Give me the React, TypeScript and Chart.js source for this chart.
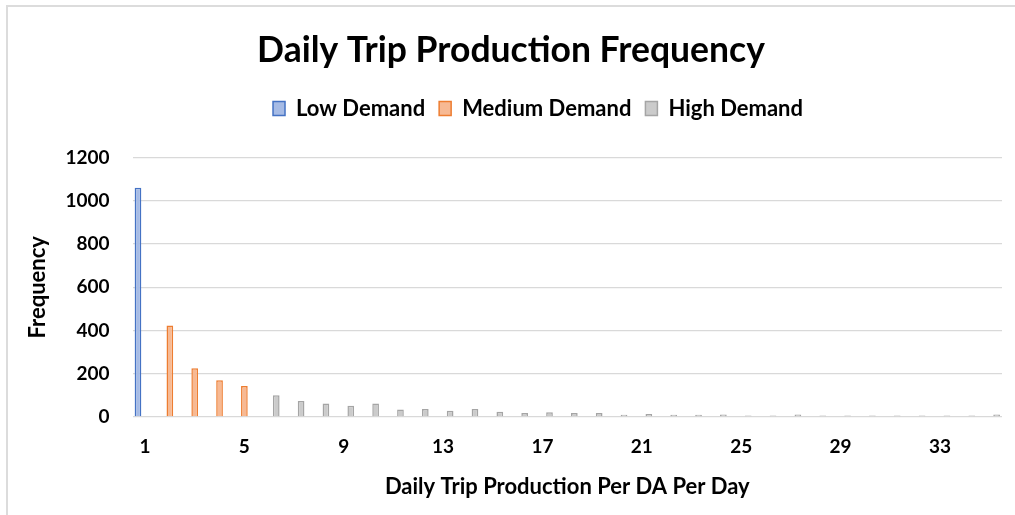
import React, { useEffect, useRef } from "react";
import { Chart, registerables } from "chart.js";

Chart.register(...registerables);

const categories: string[] = [
  "1", "2", "3", "4", "5", "6", "7", "8", "9", "10",
  "11", "12", "13", "14", "15", "16", "17", "18", "19", "20",
  "21", "22", "23", "24", "25", "26", "27", "28", "29", "30",
  "31", "32", "33", "34", "35",
];

const lowDemand: (number | null)[] = [
  1060, null, null, null, null, null, null, null, null, null,
  null, null, null, null, null, null, null, null, null, null,
  null, null, null, null, null, null, null, null, null, null,
  null, null, null, null, null,
];

const mediumDemand: (number | null)[] = [
  null, 423, 225, 170, 143, null, null, null, null, null,
  null, null, null, null, null, null, null, null, null, null,
  null, null, null, null, null, null, null, null, null, null,
  null, null, null, null, null,
];

const highDemand: (number | null)[] = [
  null, null, null, null, null, 101, 74, 62, 52, 62,
  35, 37, 29, 37, 24, 18, 22, 18, 18, 10,
  14, 10, 10, 12, 7, 7, 12, 7, 7, 7,
  7, 7, 7, 7, 12,
];

const shownXTicks: string[] = ["1", "5", "9", "13", "17", "21", "25", "29", "33"];

const FONT = "Lato, 'Open Sans', sans-serif";
const TEXT = "#000000";

const legendSpacer = {
  id: "legendSpacer",
  beforeInit(chart: any) {
    const legend = chart.legend;
    if (!legend) return;
    const origFit = legend.fit;
    legend.fit = function () {
      origFit.call(this);
      this.height += 28;
    };
    const origDraw = legend.draw;
    legend.draw = function () {
      const ctx = this.ctx;
      ctx.save();
      ctx.translate(27, 0);
      origDraw.call(this);
      ctx.restore();
    };
  },
};

export default function App() {
  const ref = useRef<HTMLCanvasElement | null>(null);

  useEffect(() => {
    document.body.style.margin = "0";
    const canvas = ref.current;
    if (!canvas) return;
    const chart = new Chart(canvas, {
      type: "bar",
      data: {
        labels: categories,
        datasets: [
          {
            label: "Low Demand",
            data: lowDemand,
            backgroundColor: "#a6bbe5",
            borderColor: "#4472c4",
            borderWidth: 1.5,
          },
          {
            label: "Medium Demand",
            data: mediumDemand,
            backgroundColor: "#f7b993",
            borderColor: "#ed7d31",
            borderWidth: 1.5,
          },
          {
            label: "High Demand",
            data: highDemand,
            backgroundColor: "#cbcbcb",
            borderColor: "#a5a5a5",
            borderWidth: 1.5,
          },
        ],
      },
      plugins: [legendSpacer],
      options: {
        responsive: false,
        animation: false,
        devicePixelRatio: 1,
        categoryPercentage: 0.85,
        barPercentage: 0.95,
        layout: { padding: { left: 20, right: 13, top: 0, bottom: 8 } },
        plugins: {
          title: {
            display: true,
            text: "Daily Trip Production Frequency",
            color: TEXT,
            font: { family: FONT, size: 35.5, weight: "bold" },
            padding: { top: 29, bottom: 12 },
          },
          legend: {
            display: true,
            position: "top",
            labels: {
              color: TEXT,
              font: { family: FONT, size: 22, weight: "bold" },
              boxWidth: 12,
              boxHeight: 14,
              padding: 14,
            },
          },
          tooltip: { enabled: false },
        },
        scales: {
          x: {
            grid: { display: false, drawTicks: false },
            border: { display: false },
            ticks: {
              autoSkip: false,
              maxRotation: 0,
              padding: 18,
              color: TEXT,
              font: { family: FONT, size: 19, weight: "bold" },
              callback: function (this: any, value: any) {
                const lab = categories[value as number];
                return shownXTicks.includes(lab) ? lab : "";
              },
            },
            title: {
              display: true,
              text: "Daily Trip Production Per DA Per Day",
              color: TEXT,
              font: { family: FONT, size: 22, weight: "bold" },
              padding: { top: 4, bottom: 7 },
            },
            afterFit: (scale: any) => {
              scale.height = 90;
            },
          },
          y: {
            min: 0,
            max: 1200,
            grid: { color: "#d9d9d9", lineWidth: 1.3, drawTicks: false },
            border: { display: false },
            ticks: {
              stepSize: 200,
              padding: 23,
              color: TEXT,
              font: { family: FONT, size: 19, weight: "bold" },
              callback: (value: any) => String(value),
            },
            title: {
              display: true,
              text: "Frequency",
              color: TEXT,
              font: { family: FONT, size: 22, weight: "bold" },
              padding: { top: 5, bottom: 0 },
            },
            afterFit: (scale: any) => {
              scale.width = 112.6;
            },
          },
        },
      },
    });
    return () => chart.destroy();
  }, []);

  return (
    <div style={{ position: "relative", width: 1015, height: 515, background: "#ffffff", overflow: "hidden" }}>
      <canvas ref={ref} width={1015} height={515} style={{ display: "block" }} />
      <div
        style={{
          position: "absolute",
          left: 6,
          top: 5,
          width: 1020,
          height: 520,
          borderTop: "2px solid #dcdcdc",
          borderLeft: "2px solid #dcdcdc",
          boxSizing: "border-box",
          pointerEvents: "none",
        }}
      />
    </div>
  );
}
